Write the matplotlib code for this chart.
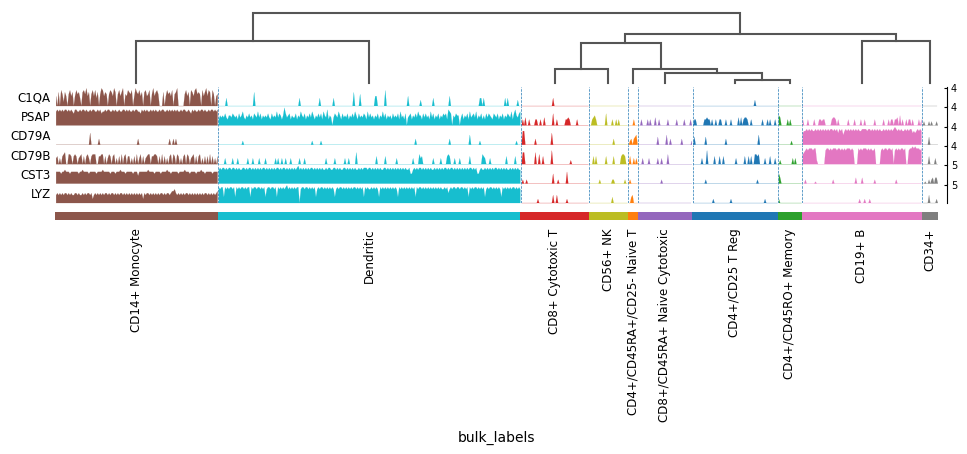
import numpy as np
import matplotlib
matplotlib.use("Agg")
import matplotlib.pyplot as plt

groups = ["CD14+ Monocyte", "Dendritic", "CD8+ Cytotoxic T", "CD56+ NK",
          "CD4+/CD45RA+/CD25- Naive T", "CD8+/CD45RA+ Naive Cytotoxic",
          "CD4+/CD25 T Reg", "CD4+/CD45RO+ Memory", "CD19+ B", "CD34+"]
group_sizes = [129, 240, 54, 31, 8, 43, 68, 19, 95, 13]
group_colors = ["#8c564b", "#17becf", "#d62728", "#bcbd22", "#ff7f0e",
                "#9467bd", "#1f77b4", "#2ca02c", "#e377c2", "#7f7f7f"]

genes = ["C1QA", "PSAP", "CD79A", "CD79B", "CST3", "LYZ"]
gene_max = [4.0, 4.0, 4.0, 4.0, 5.0, 5.0]

# per-cell expression level, digit 0-9 (9 = gene max), one string per group
c1qa = [
    "5070862750 6857058674 0786957068 5847069857 6068759706 8579065876 8059768570 7856806957 8600070586 7580679000 0068570875 8967608579 587086056",
    "0000004000 0000000000 0000000070 0000000000 0000000000 0000000000 0000400000 0000000000 4000000000 0400000000 0000000700 0060000000 "
    "0000550000 0080000000 0000000000 5000000000 3000000000 4000000000 0005000000 0000000000 0000000440 4000000000 0000000404 0000000300",
    "0000000000 0000000000 0000040000 0000000000 0000000000 0000",
    "0000000000 0000000000 0000000000 0",
    "00000000",
    "0000000000 0000000000 0000000000 0000000000 000",
    "0000000000 0000000000 0000000000 0000000000 0000000003 0000000000 00000000",
    "0000000000 000000000",
    "0000000000 0000000000 0000000000 0000000000 0000000000 0000000000 0000000000 0000000000 0000000000 00000",
    "0000000000 000",
]
psap = [
    "7878787887 8787688778 7887877878 8778786778 7887787877 8778878787 7878877687 8787787878 7787887787 8787878778 7887787687 8778788787 787887878",
    "3545464355 4654536457 4354645365 4746354546 4364547465 3596456354 4635475463 5464753546 4637548354 0465475364 5463546475 3645465374 "
    "6453546354 7463545364 5463745360 4563546475 5364645374 6354635465 6387605465 5046354637 4564735463 5364654365 4635463546 5473685467",
    "0304003000 0330030040 0000060030 0000033430 0000300000 0000",
    "0034530000 0006000030 0303000000 0",
    "00003000",
    "0030000303 0004003000 0003000000 3000003000 030",
    "0330000003 3433030030 0330003000 3000004040 3443003000 0000030003 03000300",
    "5400000303 000000000",
    "3000300003 0003323300 0003443030 0000003000 0300003003 0000000300 0000300030 3303340503 0030330300 00303",
    "0200020200 020",
]
cd79a = [
    "0000000000 0000000000 0000000600 0000300000 0000000000 0000000000 0000030000 0000000000 0000000000 3003030000 0000000000 0000000000 000000000",
    "0000000000 0000000002 0000000000 0000000000 0000000000 0000000000 0000000000 0000200000 0200000000 0000000000 0000000000 0000000000 "
    "0000000000 0000000000 0000000000 0000003000 0000000000 0000000000 0003000000 0000000005 0000000200 0000000000 0000000000 0000002000",
    "0770000000 0300000000 0000600000 0000000000 0000000000 0000",
    "0000000000 0000000003 0000000000 0",
    "02303450",
    "0000000000 0000040000 0050030000 0000300000 002",
    "0400000000 4000000000 0000003000 0000000000 0000000000 0050000000 00000000",
    "0000000000 200000000",
    "6778787877 8787878787 8788787868 7857878787 8787877888 8788787878 7877878787 8789878787 7878788676 78787",
    "0000040000 000",
]
cd79b = [
    "3403045600 5540454034 5040453045 5500445504 0354045030 4050450440 3040503504 0345504455 4040504030 4505405403 0450540345 0404503040 405040304",
    "0000030000 0300030000 0003000300 0030000300 0000030300 3003000300 0000300030 0000000000 0000030000 0030000000 3003000006 0000000000 "
    "0000040000 0040000000 0300000000 0000300005 3400000000 3000003000 0454000300 0300000004 0000000005 4300030000 0000000040 0000040000",
    "0660000000 0600500400 0000700000 0000000002 0000000000 0000",
    "0004040000 0004000004 0000045540 0",
    "04003030",
    "0003000030 0000030030 0005000000 0000000000 000",
    "0000000300 0700000400 0400400000 0000300000 0400404005 5450000300 04000300",
    "0200000000 030300000",
    "5678788878 8200000078 8787888788 7878788878 7000878788 8787877800 0078788788 7807878788 7800788989 88878",
    "0000040000 300",
]
cst3 = [
    "6666566766 6566666656 6766665666 6656666766 6665666566 6766656666 6566646666 6667666656 6665666676 6566666566 6676665666 6566676656 666656666",
    "7878878788 7887878778 8787887878 7878788787 8787878878 7887878787 8789787878 7878878787 8787787887 7887878778 8787878787 7878788878 "
    "8787878787 7887878787 8787878787 7855787878 8787878787 7878787878 8787887878 7878787878 8787855787 7878787878 8787878787 7878787877",
    "0200200000 0000000000 0000050002 0000006000 0000000000 0000",
    "0000000020 0000000022 0000000020 0",
    "02000000",
    "0000000000 0000000020 0000000000 0000000000 000",
    "0000000000 2000000000 0000000000 0000000000 0000000000 0200000000 00000000",
    "5300000000 000000000",
    "0020000000 1000000000 0000200000 0000000000 0030000300 0000000200 0000000000 0000200000 0000000000 00000",
    "0010020230 330",
]
lyz = [
    "4545454554 5454455454 4545455452 4545454545 5454554545 4554545454 5454545452 5455454545 4545545455 4566754545 4545545454 5454545455 454545456",
    "8788387878 8783878788 7878838788 7887878378 8788783878 7878978787 8788078878 8787878378 7887878787 8737878878 7878787887 8787838787 "
    "7878787387 8787878787 8738787878 7878783878 8787878787 8787878778 7857878878 8788787838 7878878787 8378788787 8787387878 7878878787",
    "0000000000 0002000000 0000040040 0000002000 0000000000 0000",
    "0000000000 0000000030 0000000000 0",
    "00340000",
    "0000000000 0000000000 0000000000 0000000000 000",
    "0000000000 0000002000 0000000000 2000000000 0000000000 0000000200 00000000",
    "2000000000 000000000",
    "0000000000 0000000000 0000000000 0000000000 0000020002 0002000000 0000000000 0000000000 0000000000 00000",
    "0000040000 020",
]
tracks = [c1qa, psap, cd79a, cd79b, cst3, lyz]

# dendrogram merges over group order: (left node, right node, height); new nodes get ids 10, 11, ...
merges = [(2, 3, 0.2), (6, 7, 0.043), (5, 11, 0.143), (4, 12, 0.2),
          (10, 13, 0.571), (8, 9, 0.6), (14, 15, 0.7), (0, 1, 0.6), (17, 16, 1.0)]

W, H = 967, 454
fig = plt.figure(figsize=(W / 100, H / 100), dpi=100)


def px_axes(x0, y0, x1, y1):
    return fig.add_axes([x0 / W, 1 - y1 / H, (x1 - x0) / W, (y1 - y0) / H])


starts = np.concatenate([[0], np.cumsum(group_sizes)[:-1]])
ends = np.cumsum(group_sizes)
centers = starts + np.array(group_sizes) / 2
n_cells = ends[-1]
xlim = (-0.5, n_cells - 0.5)

# tracks
left, right = 55, 938
top, step = 87, 19.4
for i, gene in enumerate(genes):
    vals = np.array([int(c) for c in "".join(tracks[i]).replace(" ", "")]) / 9 * gene_max[i]
    ax = px_axes(left, top + i * step, right, top + (i + 1) * step)
    for g in range(len(groups)):
        xs = np.arange(starts[g], ends[g])
        ax.fill_between(xs, 0, vals[starts[g]:ends[g]], lw=0.1, color=group_colors[g])
    for s in starts[1:]:
        ax.axvline(s, color="#1f77b4", lw=0.5, ls="--")
    ax.set_xlim(*xlim)
    ax.set_xticks([])
    for side in ["left", "top", "bottom"]:
        ax.spines[side].set_visible(False)
    ymax = int(ax.get_ylim()[1])
    ax.set_yticks([ymax])
    ax.set_yticklabels([str(ymax)], ha="left", va="top")
    ax.spines["right"].set_position(("axes", 1.01))
    ax.tick_params(axis="y", labelsize=7, right=True, left=False, length=2, direction="in",
                   labelright=True, labelleft=False, pad=3)
    ax.set_ylabel(gene, rotation=0, fontsize=8.5, ha="right", va="bottom")
    ax.yaxis.set_label_coords(-0.005, 0.1)
    ax.patch.set_alpha(0)

# group colour bar with labels
axg = px_axes(left, 211.7, right, 220)
axg.bar(starts - 0.5, 1, width=group_sizes, align="edge", color=group_colors)
axg.set_xlim(*xlim)
axg.set_ylim(0, 1)
axg.set_yticks([])
for side in axg.spines:
    axg.spines[side].set_visible(False)
axg.set_xticks(centers - 0.5)
axg.set_xticklabels(groups, rotation=90, fontsize=8.6)
axg.tick_params(axis="x", length=0, pad=6)
axg.set_xlabel("bulk_labels", fontsize=10, labelpad=6)

# dendrogram, leaf positions translated from uniform spacing to group centres
axd = px_axes(left, 13, right, 83)
uniform = {g: 5 + 10 * g for g in range(len(groups))}
leaf_uniform = [uniform[g] for g in range(len(groups))]
node_h = {g: 0.0 for g in range(len(groups))}
for k, (a, b, h) in enumerate(merges):
    node = len(groups) + k
    xa = np.interp(uniform[a], leaf_uniform, centers - 0.5)
    xb = np.interp(uniform[b], leaf_uniform, centers - 0.5)
    axd.plot([xa, xa, xb, xb], [node_h[a], h, h, node_h[b]], color="#555555", lw=1.5,
             clip_on=False, solid_joinstyle="miter")
    uniform[node] = (uniform[a] + uniform[b]) / 2
    node_h[node] = h
axd.set_xlim(*xlim)
axd.set_ylim(0, 1)
axd.axis("off")

fig.savefig("out.png", dpi=100)
